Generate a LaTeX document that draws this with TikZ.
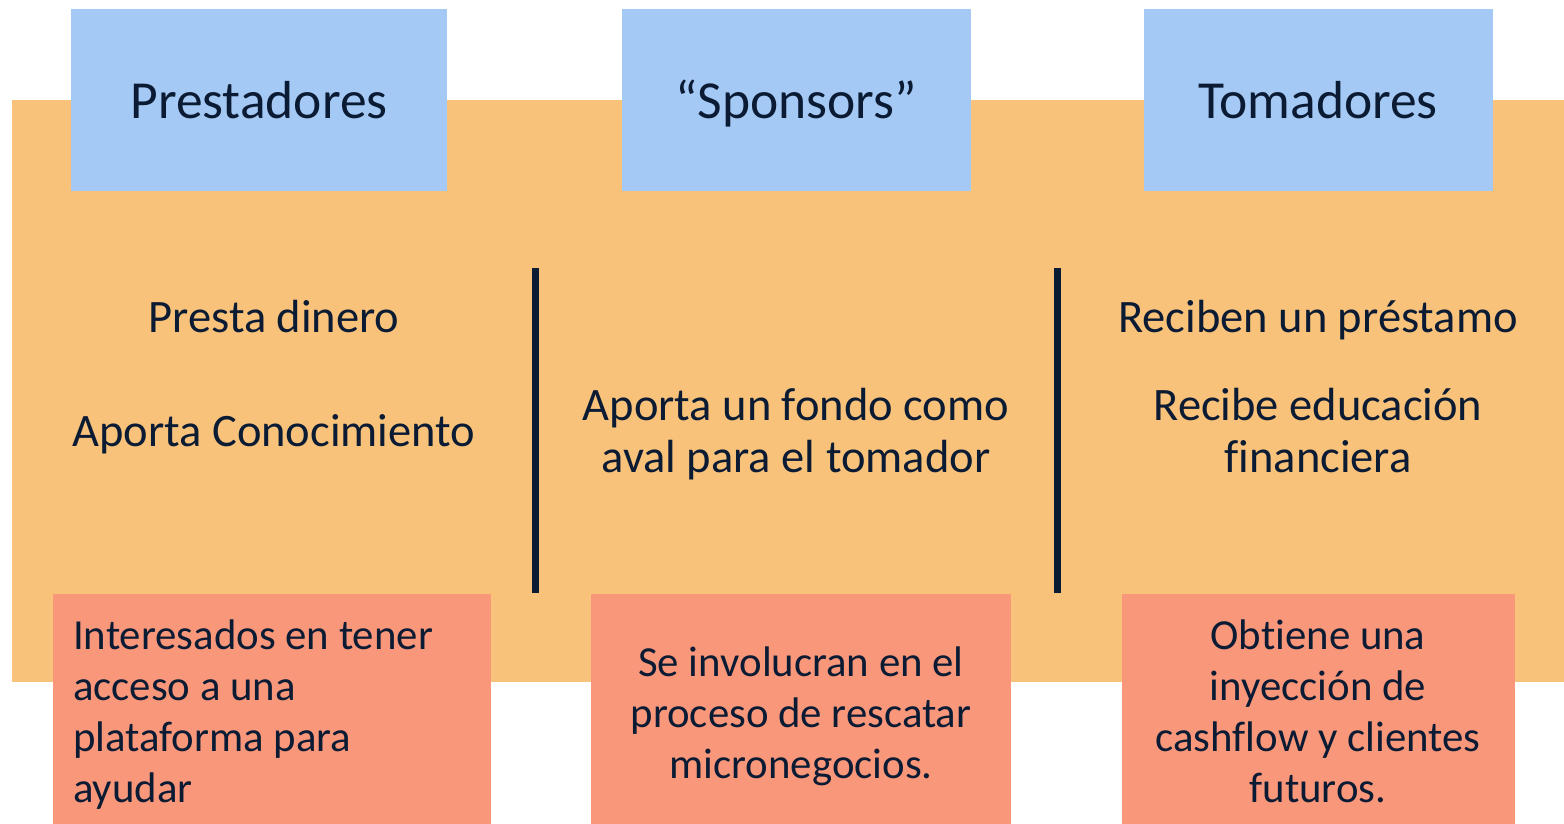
\documentclass[tikz,border=0pt]{standalone}
\usepackage{fontspec}
\setmainfont[Ligatures=NoCommon]{Carlito}
\definecolor{bgorange}{HTML}{F8C27A}
\definecolor{hblue}{HTML}{A4C9F4}
\definecolor{salmon}{HTML}{F8977A}
\definecolor{ink}{HTML}{0B1B34}
\begin{document}
\begin{tikzpicture}[x=1pt,y=-1pt,
  box/.style={rectangle,inner sep=0pt,outer sep=0pt,anchor=north west},
  txt/.style={inner sep=0pt,anchor=base,text=ink,align=center},
  big/.style={font=\fontsize{53.5}{64}\selectfont},
  mid/.style={font=\fontsize{46.5}{52}\selectfont},
  low/.style={font=\fontsize{42.8}{51}\selectfont},
  sepline/.style={draw=ink,line width=7pt}]
\useasboundingbox (0,0) rectangle (1564,824);
\fill[bgorange] (12,100) rectangle (1564,682);
% header boxes
\node[box,fill=hblue,minimum width=376pt,minimum height=182pt] (h1) at (71,9) {};
\node[box,fill=hblue,minimum width=349pt,minimum height=182pt] (h2) at (622,9) {};
\node[box,fill=hblue,minimum width=349pt,minimum height=182pt] (h3) at (1144,9) {};
\node[txt,big] (h1t) at (259,119) {Prestadores};
\node[txt,big] (h2t) at (796,119) {“Sponsors”};
\node[txt,big] (h3t) at (1318,119) {Tomadores};
% separators
\coordinate (s1a) at (535,268); \coordinate (s1b) at (535,593);
\coordinate (s2a) at (1057,268); \coordinate (s2b) at (1057,593);
\draw[sepline] (s1a) -- (s1b);
\draw[sepline] (s2a) -- (s2b);
% middle texts (base anchor = last line baseline)
\node[txt,mid] (m1a) at (274,332) {Presta dinero};
\node[txt,mid] (m1b) at (274,446) {Aporta Conocimiento};
\node[txt,mid] (m2) at (796,472) {Aporta un fondo como\\aval para el tomador};
\node[txt,mid] (m3a) at (1318,332) {Reciben un préstamo};
\node[txt,mid] (m3b) at (1318,472) {Recibe educación\\financiera};
% bottom boxes
\node[box,fill=salmon,minimum width=438pt,minimum height=230pt] (b1) at (53,594) {};
\node[box,fill=salmon,minimum width=420pt,minimum height=230pt] (b2) at (591,594) {};
\node[box,fill=salmon,minimum width=393pt,minimum height=230pt] (b3) at (1122,594) {};
\node[txt,low,align=left,anchor=base west] (b1t) at (73,802) {Interesados en tener\\acceso a una\\plataforma para\\ayudar};
\node[txt,low] (b2t) at (801,778) {Se involucran en el\\proceso de rescatar\\micronegocios.};
\node[txt,low] (b3t) at (1318,802) {Obtiene una\\inyección de\\cashflow y clientes\\futuros.};
\end{tikzpicture}
\end{document}
